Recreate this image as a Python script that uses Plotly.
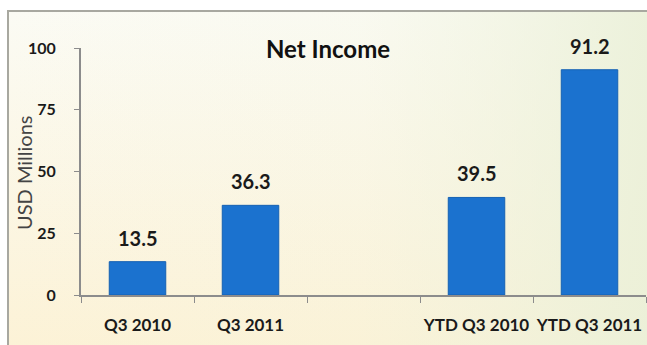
import base64
import plotly.graph_objects as go

# Net income, USD millions
categories = ["Q3 2010", "Q3 2011", " ", "YTD Q3 2010", "YTD Q3 2011"]
net_income = [13.5, 36.3, None, 39.5, 91.2]
y_ticks = [0, 25, 50, 75, 100]

W, H = 647, 345
L, R, T, B = 81, 1, 48, 50
pw, ph = W - L - R, H - T - B

def px_to_paper_x(px):
    return (px - L) / pw

def px_to_paper_y(py):
    return (H - B - py) / ph

# soft cream/green slide background as an inline SVG gradient
svg = """<svg xmlns='http://www.w3.org/2000/svg' width='640' height='340' preserveAspectRatio='none'>
<defs>
<linearGradient id='v' x1='0' y1='0' x2='0' y2='1'>
<stop offset='0' stop-color='#fbfbf4'/>
<stop offset='1' stop-color='#fcf2d6'/>
</linearGradient>
<linearGradient id='h' x1='0' y1='0' x2='1' y2='0'>
<stop offset='0' stop-color='#eef2dc' stop-opacity='0'/>
<stop offset='0.55' stop-color='#eef2dc' stop-opacity='0.15'/>
<stop offset='1' stop-color='#eaf0d8' stop-opacity='0.9'/>
</linearGradient>
</defs>
<rect width='640' height='340' fill='url(#v)'/>
<rect width='640' height='340' fill='url(#h)'/>
</svg>"""
bg_uri = "data:image/svg+xml;base64," + base64.b64encode(svg.encode()).decode()

TEXT = "#1a1a1a"

fig = go.Figure()
fig.add_trace(go.Bar(
    x=categories,
    y=net_income,
    marker=dict(color="#1b72cf", line=dict(color="#1561b3", width=1)),
    hoverinfo="skip",
))

# value labels above the bars
for c, v in zip(categories, net_income):
    if v is None:
        continue
    fig.add_annotation(
        x=c, y=v, text=f"{v:.1f}", showarrow=False,
        yanchor="middle", yshift=24,
        font=dict(family="Lato", size=20, color=TEXT, weight="bold"),
    )

# vertical axis caption
fig.add_annotation(
    xref="paper", yref="paper",
    x=px_to_paper_x(24), y=px_to_paper_y(173),
    text="USD Millions", textangle=-90, showarrow=False,
    xanchor="center", yanchor="middle",
    font=dict(family="Lato", size=20, color="#444444"),
)

fig.add_layout_image(
    source=bg_uri, xref="paper", yref="paper",
    x=px_to_paper_x(8), y=px_to_paper_y(11),
    sizex=(W + 5 - 8) / pw, sizey=(H + 5 - 11) / ph,
    sizing="stretch", xanchor="left", yanchor="top", layer="below",
)
fig.add_shape(
    type="rect", xref="paper", yref="paper",
    x0=px_to_paper_x(8), y0=px_to_paper_y(H + 10),
    x1=px_to_paper_x(W + 10), y1=px_to_paper_y(11),
    line=dict(color="#a8a8a0", width=2), fillcolor="rgba(0,0,0,0)",
    layer="below",
)

fig.update_layout(
    width=W, height=H,
    margin=dict(l=L, r=R, t=T, b=B, autoexpand=False),
    paper_bgcolor="white",
    plot_bgcolor="rgba(0,0,0,0)",
    showlegend=False,
    bargap=0.5,
    title=dict(
        text="Net Income", xref="container", yref="container",
        x=328 / W, y=1 - 50 / H, xanchor="center", yanchor="middle",
        font=dict(family="Lato", size=24, color="#111111", weight="bold"),
    ),
    font=dict(family="Lato", color=TEXT),
)
fig.update_xaxes(
    type="category", range=[-0.5, 4.5],
    showline=True, linecolor="#8c8c8c", linewidth=2,
    ticks="outside", tickson="boundaries", ticklen=6, tickcolor="#8c8c8c", tickwidth=1,
    tickfont=dict(family="Lato", size=17, color=TEXT, weight="bold"),
    tickangle=0, ticklabelstandoff=14,
    showgrid=False, zeroline=False, fixedrange=True, automargin=False,
)
fig.update_yaxes(
    range=[0, 100], tickvals=y_ticks,
    showline=True, linecolor="#8c8c8c", linewidth=2,
    ticks="outside", ticklen=5, tickcolor="#8c8c8c", tickwidth=1,
    tickfont=dict(family="Lato", size=16, color=TEXT, weight="bold"),
    ticklabelstandoff=15,
    showgrid=False, zeroline=False, fixedrange=True, automargin=False,
)

fig.write_html("out.html", config={"displayModeBar": False})
